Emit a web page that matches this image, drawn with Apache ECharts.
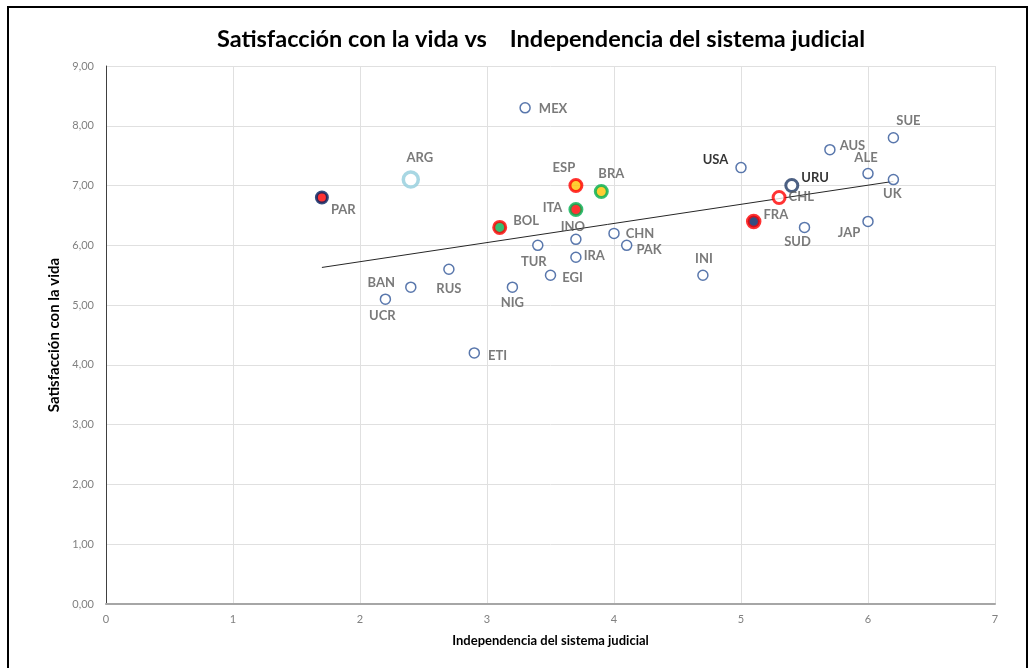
<!DOCTYPE html>
<html>
<head>
<meta charset="utf-8">
<script src="https://cdn.jsdelivr.net/npm/echarts@6/dist/echarts.min.js"></script>
<style>
  html, body { margin: 0; padding: 0; background: #fff; }
  #chart { width: 1033px; height: 668px; }
</style>
</head>
<body>
<div id="chart"></div>
<script>
// países (abreviaturas)
const paises = ['PAR', 'ARG', 'MEX', 'ESP', 'BRA', 'ITA', 'BOL', 'INO', 'CHN', 'PAK', 'TUR', 'IRA', 'EGI', 'NIG', 'RUS',
  'BAN', 'UCR', 'ETI', 'INI', 'USA', 'URU', 'CHL', 'FRA', 'SUD', 'AUS', 'ALE', 'SUE', 'UK', 'JAP']
// independencia del sistema judicial
const independencia = [1.7, 2.4, 3.3, 3.7, 3.9, 3.7, 3.1, 3.7, 4.0, 4.1, 3.4, 3.7, 3.5, 3.2, 2.7,
  2.4, 2.2, 2.9, 4.7, 5.0, 5.4, 5.3, 5.1, 5.5, 5.7, 6.0, 6.2, 6.2, 6.0]
// satisfaccion con la vida
const satisfaccion = [6.8, 7.1, 8.3, 7.0, 6.9, 6.6, 6.3, 6.1, 6.2, 6.0, 6.0, 5.8, 5.5, 5.3, 5.6,
  5.3, 5.1, 4.2, 5.5, 7.3, 7.0, 6.8, 6.4, 6.3, 7.6, 7.2, 7.8, 7.1, 6.4]
// linea de tendencia (extremos)
const tendenciaX = [1.7, 6.2]
const tendenciaY = [5.63, 7.07]
const xTicks = [0, 1, 2, 3, 4, 5, 6, 7]
const yTicks = [0, 1, 2, 3, 4, 5, 6, 7, 8, 9]

// estilos de marcadores especiales
const especiales = {
  PAR: { color: '#ff0000', borderColor: '#002060', borderWidth: 3, size: 11 },
  ARG: { color: '#ffffff', borderColor: '#92cddc', borderWidth: 3.5, size: 15 },
  ESP: { color: '#ffc000', borderColor: '#ff0000', borderWidth: 3, size: 12 },
  BRA: { color: '#ffc000', borderColor: '#00b050', borderWidth: 3, size: 12 },
  ITA: { color: '#ff0000', borderColor: '#00b050', borderWidth: 3, size: 12 },
  BOL: { color: '#00b050', borderColor: '#ff0000', borderWidth: 3, size: 12 },
  URU: { color: '#ffffff', borderColor: '#1f3864', borderWidth: 3, size: 12 },
  CHL: { color: '#ffffff', borderColor: '#ff0000', borderWidth: 3, size: 12 },
  FRA: { color: '#002060', borderColor: '#ff0000', borderWidth: 3.5, size: 12 }
}
// posicion de etiquetas
const etiquetas = {
  PAR: ['right', [-2, 12]],
  ARG: ['top', [9, -2]],
  MEX: ['right', [4, 1]],
  ESP: ['top', [-12, 0]],
  BRA: ['top', [10, 0]],
  ITA: ['left', [-2, -2]],
  BOL: ['right', [2, -7]],
  INO: ['top', [-3, 4]],
  CHN: ['right', [2, 0]],
  PAK: ['right', [0, 4]],
  TUR: ['bottom', [-4, 0]],
  IRA: ['right', [-2, -1]],
  EGI: ['right', [2, 3]],
  NIG: ['bottom', [0, -1]],
  RUS: ['bottom', [0, 3]],
  BAN: ['left', [-6, -4]],
  UCR: ['bottom', [-3, 0]],
  ETI: ['right', [4, 3]],
  INI: ['top', [1, 0]],
  USA: ['left', [-3, -8]],
  URU: ['right', [-2, -8]],
  CHL: ['right', [-2, -1]],
  FRA: ['right', [-2, -7]],
  SUD: ['bottom', [-7, -2]],
  AUS: ['right', [0, -4]],
  ALE: ['top', [-2, 0]],
  SUE: ['top', [15, -1]],
  UK: ['bottom', [-1, -2]],
  JAP: ['left', [2, 11]]
}
const negros = ['USA', 'URU']

const puntos = paises.map((p, i) => {
  const e = especiales[p]
  const l = etiquetas[p]
  return {
    name: p,
    value: [independencia[i], satisfaccion[i]],
    symbolSize: e ? e.size : 10,
    itemStyle: e
      ? { color: e.color, borderColor: e.borderColor, borderWidth: e.borderWidth }
      : { color: '#ffffff', borderColor: '#2f5597', borderWidth: 1.5 },
    label: {
      position: l[0],
      offset: l[1],
      distance: 4,
      color: negros.includes(p) ? '#000000' : '#595959'
    }
  }
})

const chart = echarts.init(document.getElementById('chart'))
chart.setOption({
  animation: false,
  textStyle: { fontFamily: 'Lato' },
  title: {
    text: 'Satisfacción con la vida vs    Independencia del sistema judicial',
    left: 536,
    textAlign: 'center',
    top: 22,
    textStyle: { fontFamily: 'Lato', fontWeight: 'bold', fontSize: 23.5, color: '#000' }
  },
  graphic: [{
    type: 'rect',
    shape: { x: 8, y: 7, width: 1019, height: 680 },
    style: { fill: 'none', stroke: '#000', lineWidth: 2 },
    silent: true
  }],
  grid: { left: 106, right: 38, top: 66, bottom: 64 },
  xAxis: {
    type: 'value',
    min: xTicks[0],
    max: xTicks[xTicks.length - 1],
    interval: 1,
    name: 'Independencia del sistema judicial',
    nameLocation: 'middle',
    nameGap: 30,
    nameTextStyle: { fontWeight: 'bold', fontSize: 13, color: '#000' },
    axisLine: { lineStyle: { color: '#a6a6a6', width: 2 } },
    axisTick: { show: false },
    axisLabel: { color: '#808080', fontSize: 11, margin: 10 },
    splitLine: { lineStyle: { color: '#e0e0e0' } }
  },
  yAxis: {
    type: 'value',
    min: yTicks[0],
    max: yTicks[yTicks.length - 1],
    interval: 1,
    name: 'Satisfacción con la vida',
    nameLocation: 'middle',
    nameGap: 38,
    nameTextStyle: { fontWeight: 'bold', fontSize: 15, color: '#000' },
    axisLine: { show: true, lineStyle: { color: '#404040', width: 1 } },
    axisTick: { show: false },
    axisLabel: {
      color: '#808080',
      fontSize: 11,
      margin: 12,
      formatter: v => v.toFixed(2).replace('.', ',')
    },
    splitLine: { lineStyle: { color: '#e0e0e0' } }
  },
  series: [
    {
      type: 'line',
      data: tendenciaX.map((x, i) => [x, tendenciaY[i]]),
      symbol: 'none',
      lineStyle: { color: '#262626', width: 1 },
      silent: true,
      z: 1
    },
    {
      type: 'scatter',
      data: puntos,
      z: 3,
      label: {
        show: true,
        formatter: '{b}',
        fontFamily: 'Lato',
        fontWeight: 'bold',
        fontSize: 13
      }
    }
  ]
})
</script>
</body>
</html>
